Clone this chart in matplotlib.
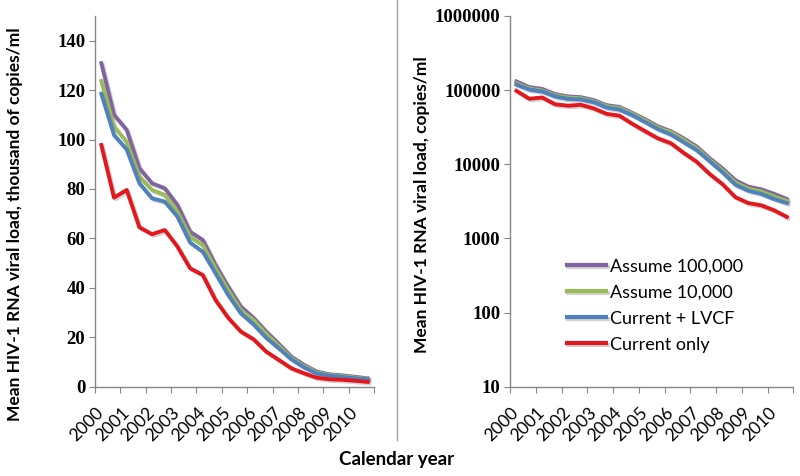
import numpy as np
import matplotlib
matplotlib.use("Agg")
import matplotlib.pyplot as plt
import matplotlib.patheffects as pe
from matplotlib.lines import Line2D

# ---- data (thousand copies/ml), half-year points 2000..2010 ----
years = [str(y) for y in range(2000, 2011)]
assume_100k = [130.9, 110.0, 103.9, 88.4, 82.3, 80.3, 73.5, 62.7, 59.4, 49.3, 40.5,
               32.4, 27.9, 22.3, 17.3, 12.1, 8.8, 6.1, 5.0, 4.6, 4.0, 3.4]
assume_10k = [123.7, 105.2, 99.0, 85.0, 79.6, 77.6, 70.8, 60.7, 57.3, 47.9, 39.1,
              31.0, 27.0, 21.3, 16.5, 11.5, 8.3, 5.7, 4.7, 4.3, 3.7, 3.2]
current_lvcf = [118.5, 101.8, 96.0, 82.3, 76.2, 74.9, 68.8, 58.3, 54.6, 45.9, 37.1,
                29.7, 25.2, 19.8, 15.5, 11.0, 7.8, 5.3, 4.4, 4.0, 3.4, 3.0]
current_only = [97.8, 76.5, 79.6, 64.5, 61.7, 63.4, 56.7, 47.9, 45.2, 35.1, 27.9,
                22.3, 19.2, 14.2, 10.8, 7.4, 5.4, 3.6, 3.0, 2.8, 2.4, 1.95]
series_labels = ["Assume 100,000", "Assume 10,000", "Current + LVCF", "Current only"]
series_colors = ["#8064A2", "#9BBB59", "#4F81BD", "#E3171E"]
lin_ticks = [0, 20, 40, 60, 80, 100, 120, 140]
log_ticks = [10, 100, 1000, 10000, 100000, 1000000]

series = [assume_100k, assume_10k, current_lvcf, current_only]
n = len(assume_100k)
x = np.arange(n)

tickfont = dict(family="Liberation Serif", size=13.5, weight="bold")
sansfam = ["Lato", "DejaVu Sans"]
gray = "#868686"

fig = plt.figure(figsize=(8, 4.76), dpi=100)
H = 476.0
ax1 = fig.add_axes([95/800, 1-386.7/H, 279/800, (386.7-16)/H])
ax2 = fig.add_axes([510/800, 1-386.7/H, 283.3/800, (386.7-16)/H])

shadow = [pe.SimpleLineShadow(offset=(1.2, -1.2), shadow_color="gray", alpha=0.35), pe.Normal()]

for ax, scale in ((ax1, 1.0), (ax2, 1000.0)):
    for vals, lab, col in zip(series, series_labels, series_colors):
        ax.plot(x, np.array(vals) * scale, color=col, lw=2.8, label=lab,
                path_effects=shadow, solid_joinstyle="round")
    ax.set_xlim(-0.5, n - 0.5)
    for s in ("top", "right"):
        ax.spines[s].set_visible(False)
    for s in ("left", "bottom"):
        ax.spines[s].set_color(gray)
        ax.spines[s].set_linewidth(1.0)
    # year boundary ticks
    ax.set_xticks(np.arange(-0.5, n, 2))
    ax.set_xticklabels([])
    ax.tick_params(axis="x", which="major", direction="out", length=4, color=gray)
    ax.set_xticks(np.arange(0, n, 2), minor=True)
    ax.set_xticklabels(years, minor=True, rotation=45, ha="right", va="center",
                       rotation_mode="anchor", family=sansfam, fontsize=12.5)
    ax.tick_params(axis="x", which="minor", length=0, pad=17)
    ax.tick_params(axis="y", direction="out", length=4, color=gray, pad=3)

ax1.set_ylim(0, 150)
ax1.set_yticks(lin_ticks)
ax1.set_yticklabels([str(t) for t in lin_ticks], fontdict=tickfont)

ax2.set_yscale("log")
ax2.set_ylim(10, 1000000)
ax2.set_yticks(log_ticks)
ax2.yaxis.set_minor_locator(matplotlib.ticker.NullLocator())
ax2.set_yticklabels([str(t) for t in log_ticks], fontdict=tickfont)

leg = ax2.legend(loc="upper left", bbox_to_anchor=(0.2, 0.345), frameon=False,
                 borderpad=0, borderaxespad=0, handlelength=2.2, handletextpad=0.2,
                 labelspacing=0.55, prop=dict(family=sansfam, size=13))
for h in leg.get_lines():
    h.set_linewidth(3)

fig.text(15/800, 1-224/H, "Mean HIV-1 RNA viral load, thousand of copies/ml", rotation=90,
         ha="center", va="center", family=sansfam, fontsize=12.5, fontweight="bold")
fig.text(422/800, 1-205/H, "Mean HIV-1 RNA viral load, copies/ml", rotation=90,
         ha="center", va="center", family=sansfam, fontsize=12.5, fontweight="bold")
fig.text(397/800, 1-459/H, "Calendar year", ha="center", va="center",
         family=sansfam, fontsize=13.5, fontweight="bold")

fig.add_artist(Line2D([397/800, 397/800], [1.0, 1-440/H], color="#a0a0a0", lw=1.0,
                      transform=fig.transFigure))

fig.savefig("out.png", dpi=100)
